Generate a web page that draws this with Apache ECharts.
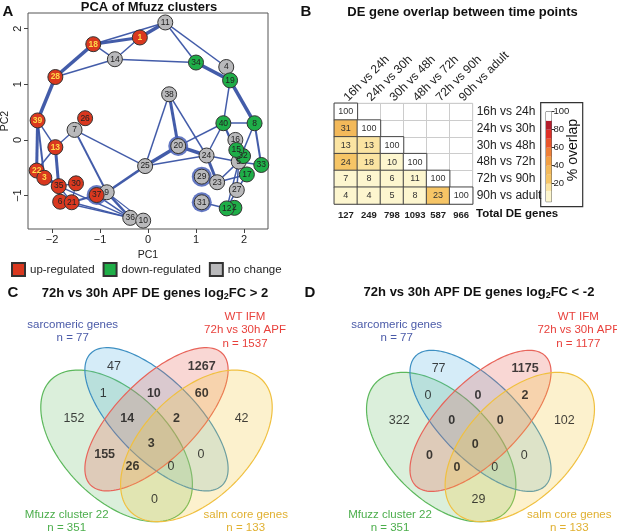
<!DOCTYPE html>
<html><head><meta charset="utf-8">
<script src="https://cdn.jsdelivr.net/npm/echarts@6/dist/echarts.min.js"></script>
<style>html,body{margin:0;padding:0;background:#fff}#c{width:617px;height:532px}</style>
</head><body><div id="c"></div>
<script>
// ---------- Panel A: PCA of Mfuzz clusters ----------
const nodeId = ['5','16','11','14','4','38','7','20','24','25','29','23','27','9','31','36','10',
  '1','18','28','39','26','13','22','3','35','30','6','21','37',
  '34','19','40','8','32','15','33','17','2','12'];
const nodePC1 = [1.89,1.82,0.36,-0.69,1.63,0.44,-1.53,0.63,1.22,-0.06,1.12,1.44,1.85,-0.86,1.12,-0.37,-0.10,
  -0.17,-1.14,-1.93,-2.30,-1.31,-1.93,-2.32,-2.16,-1.86,-1.50,-1.83,-1.59,-1.07,
  1.00,1.71,1.57,2.22,1.98,1.84,2.36,2.06,1.80,1.64];
const nodePC2 = [-0.39,0.00,2.11,1.45,1.31,0.82,0.18,-0.11,-0.28,-0.47,-0.66,-0.76,-0.90,-0.94,-1.12,-1.40,-1.45,
  1.84,1.72,1.13,0.35,0.39,-0.13,-0.55,-0.68,-0.83,-0.78,-1.11,-1.12,-0.99,
  1.39,1.07,0.30,0.30,-0.29,-0.18,-0.45,-0.62,-1.22,-1.23];
const nodeStatus = ['no change','no change','no change','no change','no change','no change','no change','no change','no change','no change','no change','no change','no change','no change','no change','no change','no change',
  'up-regulated','up-regulated','up-regulated','up-regulated','up-regulated','up-regulated','up-regulated','up-regulated','up-regulated','up-regulated','up-regulated','up-regulated','up-regulated',
  'down-regulated','down-regulated','down-regulated','down-regulated','down-regulated','down-regulated','down-regulated','down-regulated','down-regulated','down-regulated'];
const yellowLabelIds = ['1','18','28','39','13','22','3'];
const haloIds = ['29','31','37','20'];
const edgeFrom  = ['1','1','11','1','14','18','14','14','11','11','34','4','19','19','40','28','39','39','39','22','13','13','22','22','3','35','35','35','6','35','6','21','21','30','37','37','9','36','7','7','9','25','25','25','38','38','20','20','24','24','29','24','40','40','8','8','5','23','23','27','27','12','12','31','9'];
const edgeTo    = ['11','18','18','14','18','28','28','34','34','4','19','19','40','8','8','39','13','22','3','13','7','35','3','35','35','30','6','21','21','36','36','36','37','21','9','36','36','10','9','25','25','20','24','38','20','24','24','40','40','23','23','5','15','5','5','33','33','5','17','5','17','5','27','12','10'];
const edgeWidth = [3.5,3,1.5,1.5,1.5,3.5,1.5,1.5,1.5,1.5,3.5,1.5,1.5,3.5,1.5,3.5,1.5,3,2,1.5,1.3,3,3.5,3,2,1.5,2,1.5,3,1.5,1.5,1.5,2,1.2,3,1.5,2.5,2,2,1.5,2.5,3.5,1.5,1.5,3,1.5,3.5,1.5,1.5,3,2,1.5,1.5,1.5,1.5,2,1.5,1.5,1.5,1.5,1.5,1.5,1.5,1.5,1.2];
const statusNames = ['up-regulated','down-regulated','no change'];
const statusColors = {'up-regulated':'#d9381f','down-regulated':'#1fae48','no change':'#b9b9bb'};
const pcaXTicks = [-2,-1,0,1,2];
const pcaYTicks = [-1,0,1,2];

// ---------- Panel B: DE gene overlap ----------
const timeLabels = ['16h vs 24h','24h vs 30h','30h vs 48h','48h vs 72h','72h vs 90h','90h vs adult'];
const overlapRows = [[100],[31,100],[13,13,100],[24,18,10,100],[7,8,6,11,100],[4,4,5,8,23,100]];
const totalDE = [127,249,798,1093,587,966];
const bandBreaks = [0,12,20,30,40,50,60,70,80,90,100];
const bandColors = ['#fdf6cf','#fbe4a2','#f6c566','#f3b95a','#f2a044','#ee7f37','#e8552b','#de2f26','#b41d2c','#ffffff'];
const overlapTicks = [20,40,60,80,100];

// ---------- Panels C/D: Venn diagrams ----------
const setNames = ['Mfuzz cluster 22','sarcomeric genes','WT IFM','salm core genes'];
const setSizesC = [351,77,1537,133];
const setSizesD = [351,77,1177,133];
const regionCodes = ['B','R','BG','BR','RY','G','BGR','BRY','Y','BGRY','GR','BY','GRY','BGY','GY'];
const countsC = [47,1267,1,10,60,152,14,2,42,3,155,0,26,0,0];
const countsD = [77,1175,0,0,2,322,0,0,102,0,0,0,0,0,29];

// layout (normalised Venn units)
const regionU = [0.34,0.67,0.30,0.49,0.67,0.19,0.39,0.575,0.82,0.48,0.305,0.667,0.41,0.554,0.492];
const regionV = [0.77,0.77,0.668,0.668,0.668,0.573,0.573,0.573,0.573,0.478,0.436,0.436,0.392,0.392,0.27];
const ellCX = [0.35,0.5,0.5,0.65], ellCY = [0.47,0.57,0.57,0.47];
const ellA = [0.35,0.35,0.35,0.35], ellB = [0.2,0.15,0.15,0.2], ellAng = [-45,-45,45,45];
const ellStroke = ['#5cb85c','#3d8fc2','#e8645a','#f0c040'];
const ellFill = ['rgba(92,184,92,0.22)','rgba(80,175,225,0.24)','rgba(232,100,90,0.26)','rgba(245,200,60,0.26)'];
const setColor = ['#4cae4c','#4a5aa8','#e8413c','#e0b030'];

const FONT = '"Liberation Sans", Arial, Helvetica, sans-serif';
const chart = echarts.init(document.getElementById('c'));

const idx = {}; nodeId.forEach((id,i)=>idx[id]=i);
const pos = id => [nodePC1[idx[id]], nodePC2[idx[id]]];
const minus = v => String(v).replace('-', '\u2212');

function nodeSeries(status){
  const data = [];
  nodeId.forEach((id,i)=>{
    if (nodeStatus[i] !== status) return;
    const yl = yellowLabelIds.includes(id);
    data.push({name:id, value:[nodePC1[i], nodePC2[i]],
      label:{color: yl ? '#ffd84a' : '#222', fontWeight: yl ? 'bold':'normal'}});
  });
  return {type:'scatter', name:status, xAxisIndex:0, yAxisIndex:0, symbolSize:15, z:5,
    itemStyle:{color:statusColors[status], borderColor:'#333', borderWidth:1, opacity:1},
    label:{show:true, position:'inside', formatter:p=>p.name, fontSize:8.5, fontFamily:FONT},
    data};
}

const edgeData = edgeFrom.map((f,i)=>({coords:[pos(f), pos(edgeTo[i])], lineStyle:{width:edgeWidth[i]}}));

function bandColor(v){
  for (let i=0;i<bandColors.length;i++){ if (v < bandBreaks[i+1] || i===bandColors.length-1) return bandColors[i]; }
}
const heatData = [];
overlapRows.forEach((row,r)=>row.forEach((v,c)=>{
  heatData.push({value:[c,r,v], itemStyle:{color:bandColor(v), borderColor:'#444', borderWidth:1}});
}));

function ellipseSeries(xi, yi){
  return {type:'custom', xAxisIndex:xi, yAxisIndex:yi, silent:true, clip:false, z:1,
    data: ellCX.map((cx,i)=>[cx, ellCY[i], ellA[i], ellB[i], ellAng[i], i]),
    renderItem(params, api){
      const cx=api.value(0), cy=api.value(1), a=api.value(2), b=api.value(3), ang=api.value(4)*Math.PI/180, i=api.value(5);
      const pts=[];
      for (let k=0;k<144;k++){
        const t=k/144*2*Math.PI, x=a*Math.cos(t), y=b*Math.sin(t);
        pts.push(api.coord([cx + x*Math.cos(ang) - y*Math.sin(ang), cy + x*Math.sin(ang) + y*Math.cos(ang)]));
      }
      return {type:'polygon', shape:{points:pts}, style:{fill:ellFill[i], stroke:ellStroke[i], lineWidth:1.2}};
    }};
}
function countSeries(xi, yi, counts){
  return {type:'scatter', xAxisIndex:xi, yAxisIndex:yi, symbolSize:1, z:6, silent:true,
    itemStyle:{color:'transparent'},
    data: counts.map((n,i)=>({value:[regionU[i], regionV[i], n],
      label:{fontWeight: regionCodes[i].includes('R') ? 'bold' : 'normal'}})),
    label:{show:true, position:'inside', formatter:p=>String(p.value[2]), fontSize:12.5, color:'#111', fontFamily:FONT}};
}

const series = [
  {type:'lines', coordinateSystem:'cartesian2d', xAxisIndex:0, yAxisIndex:0, z:2, silent:true,
    lineStyle:{color:'#3953a4', opacity:0.95}, data:edgeData},
  {type:'scatter', xAxisIndex:0, yAxisIndex:0, symbolSize:20, z:3, silent:true,
    itemStyle:{color:'#4a62b8', opacity:0.85},
    data: haloIds.map(id=>pos(id))},
  nodeSeries('no change'), nodeSeries('up-regulated'), nodeSeries('down-regulated'),
  {type:'heatmap', xAxisIndex:1, yAxisIndex:1, data:heatData,
    label:{show:true, formatter:p=>String(p.value[2]), fontSize:9, color:'#333', fontFamily:FONT}}
];
bandColors.forEach((col,i)=>{
  series.push({type:'bar', name:'band'+i, xAxisIndex:3, yAxisIndex:2, stack:'cb', barWidth:'100%', silent:true,
    itemStyle:{color:col}, data:[bandBreaks[i+1]-bandBreaks[i]]});
});
series.push(ellipseSeries(4,3), countSeries(4,3,countsC), ellipseSeries(5,4), countSeries(5,4,countsD));

function txt(text, x, y, opt){
  return Object.assign({type:'text', x, y, silent:true,
    style:Object.assign({text, fill:'#111', font:'13px '+FONT, textAlign:'center', textVerticalAlign:'middle'}, opt||{})});
}
function vennTitle(cx, y, sign){
  return {type:'text', x:cx, y:y, silent:true, style:{
    text:'{b|72h vs 30h APF DE genes log}{s|2}{b|FC ' + sign + '}',
    rich:{b:{fontSize:13, fontWeight:'bold', fontFamily:FONT, fill:'#111'}, s:{fontSize:9, fontWeight:'bold', fontFamily:FONT, fill:'#111', padding:[7,0,0,0]}},
    textAlign:'center', textVerticalAlign:'middle'}};
}
const graphics = [
  txt('A', 8, 12, {font:'bold 15px '+FONT}),
  txt('B', 306, 12, {font:'bold 15px '+FONT}),
  txt('C', 13, 293, {font:'bold 15px '+FONT}),
  txt('D', 310, 293, {font:'bold 15px '+FONT}),
  txt('PCA of Mfuzz clusters', 149, 7, {font:'bold 13px '+FONT}),
  txt('DE gene overlap between time points', 462.5, 12, {font:'bold 13px '+FONT}),
  vennTitle(155, 293, '> 2'),
  vennTitle(479, 292, '< -2'),
  txt('Total DE genes', 476, 214, {font:'bold 11.5px '+FONT, textAlign:'left'}),
  {type:'rect', shape:{x:540.7, y:102.7, width:42, height:104}, silent:true, style:{fill:'none', stroke:'#333', lineWidth:1.2}},
  {type:'text', x:573, y:150, rotation:Math.PI/2, silent:true, style:{text:'% overlap', font:'14px '+FONT, fill:'#111', textAlign:'center', textVerticalAlign:'middle'}},
  // Venn C set labels
  txt(setNames[1], 72.7, 325, {font:'11.5px '+FONT, fill:setColor[1]}),
  txt('n = '+setSizesC[1], 72.7, 338.3, {font:'11.5px '+FONT, fill:setColor[1]}),
  txt(setNames[2], 245, 316.7, {font:'11.5px '+FONT, fill:setColor[2]}),
  txt('72h vs 30h APF', 245, 330, {font:'11.5px '+FONT, fill:setColor[2]}),
  txt('n = '+setSizesC[2], 245, 343.7, {font:'11.5px '+FONT, fill:setColor[2]}),
  txt(setNames[0], 66.7, 515, {font:'11.5px '+FONT, fill:setColor[0]}),
  txt('n = '+setSizesC[0], 66.7, 528, {font:'11.5px '+FONT, fill:setColor[0]}),
  txt(setNames[3], 245.7, 515, {font:'11.5px '+FONT, fill:setColor[3]}),
  txt('n = '+setSizesC[3], 245.7, 528, {font:'11.5px '+FONT, fill:setColor[3]}),
  // Venn D set labels
  txt(setNames[1], 396.7, 325, {font:'11.5px '+FONT, fill:setColor[1]}),
  txt('n = '+setSizesD[1], 396.7, 338.3, {font:'11.5px '+FONT, fill:setColor[1]}),
  txt(setNames[2], 578.3, 316.7, {font:'11.5px '+FONT, fill:setColor[2]}),
  txt('72h vs 30h APF', 578.3, 330, {font:'11.5px '+FONT, fill:setColor[2]}),
  txt('n = '+setSizesD[2], 578.3, 343.7, {font:'11.5px '+FONT, fill:setColor[2]}),
  txt(setNames[0], 390, 515, {font:'11.5px '+FONT, fill:setColor[0]}),
  txt('n = '+setSizesD[0], 390, 528, {font:'11.5px '+FONT, fill:setColor[0]}),
  txt(setNames[3], 569.3, 515, {font:'11.5px '+FONT, fill:setColor[3]}),
  txt('n = '+setSizesD[3], 569.3, 528, {font:'11.5px '+FONT, fill:setColor[3]})
];

const hidX = (g)=>({type:'value', gridIndex:g, min:0, max:1, show:false});
const hidY = (g)=>({type:'value', gridIndex:g, min:0.15, max:0.95, show:false});

const option = {
  animation:false,
  backgroundColor:'#fff',
  textStyle:{fontFamily:FONT},
  legend:{data:statusNames, left:11, top:262, padding:0, icon:'rect', itemWidth:13, itemHeight:13, itemGap:8,
    textStyle:{fontSize:11.5, color:'#222', fontFamily:FONT}, selectedMode:false},
  grid:[
    {left:28, top:13, width:240, height:216, show:true, borderColor:'#555', borderWidth:1, backgroundColor:'transparent', outerBoundsMode:'none'},
    {left:334.3, top:103.3, width:138.4, height:100.7, show:true, borderColor:'#ccc', borderWidth:1, backgroundColor:'transparent', outerBoundsMode:'none'},
    {left:546, top:111.7, width:5.5, height:90, show:true, borderColor:'#333', borderWidth:0.8, backgroundColor:'transparent', outerBoundsMode:'none'},
    {left:23.5, top:318.2, width:266, height:212.8, outerBoundsMode:'none'},
    {left:349.5, top:321.3, width:262, height:209.6, outerBoundsMode:'none'}
  ],
  xAxis:[
    {type:'value', gridIndex:0, min:-2.5, max:2.5, splitLine:{show:false}, axisLine:{show:false, onZero:false},
      axisTick:{show:true, length:4, lineStyle:{color:'#444'}, customValues:pcaXTicks},
      axisLabel:{fontSize:11, color:'#222', margin:5, customValues:pcaXTicks, formatter:minus},
      name:'PC1', nameLocation:'middle', nameGap:21, nameTextStyle:{fontSize:10.5, color:'#222'}},
    {type:'category', gridIndex:1, position:'top', data:timeLabels, axisLine:{show:false, onZero:false}, axisTick:{show:false},
      splitLine:{show:true, lineStyle:{color:'#ccc', width:1}},
      axisLabel:{rotate:-45, align:'left', verticalAlign:'middle', fontSize:12, color:'#222', margin:4, interval:0}},
    {type:'category', gridIndex:1, position:'bottom', data:totalDE.map(String), axisLine:{show:false, onZero:false}, axisTick:{show:false},
      axisLabel:{fontSize:9.5, fontWeight:'bold', color:'#222', margin:6, interval:0}},
    {type:'category', gridIndex:2, data:[''], show:false},
    hidX(3), hidX(4)
  ],
  yAxis:[
    {type:'value', gridIndex:0, min:-1.6, max:2.28, splitLine:{show:false}, axisLine:{show:false, onZero:false},
      axisTick:{show:true, length:4, lineStyle:{color:'#444'}, customValues:pcaYTicks},
      axisLabel:{fontSize:11, color:'#222', margin:5, rotate:90, customValues:pcaYTicks, formatter:minus},
      name:'PC2', nameLocation:'middle', nameGap:17, nameRotate:90, nameTextStyle:{fontSize:10.5, color:'#222'}},
    {type:'category', gridIndex:1, position:'right', inverse:true, data:timeLabels, axisLine:{show:false, onZero:false}, axisTick:{show:false},
      splitLine:{show:true, lineStyle:{color:'#ccc', width:1}},
      axisLabel:{fontSize:12, color:'#222', margin:4, interval:0}},
    {type:'value', gridIndex:2, min:0, max:100, position:'right', splitLine:{show:false}, axisLine:{show:false, onZero:false},
      axisTick:{show:true, length:3, lineStyle:{color:'#333'}, customValues:overlapTicks},
      axisLabel:{fontSize:9.5, color:'#222', margin:2, customValues:overlapTicks}},
    hidY(3), hidY(4)
  ],
  series,
  graphic:graphics
};
chart.setOption(option);
</script></body></html>
